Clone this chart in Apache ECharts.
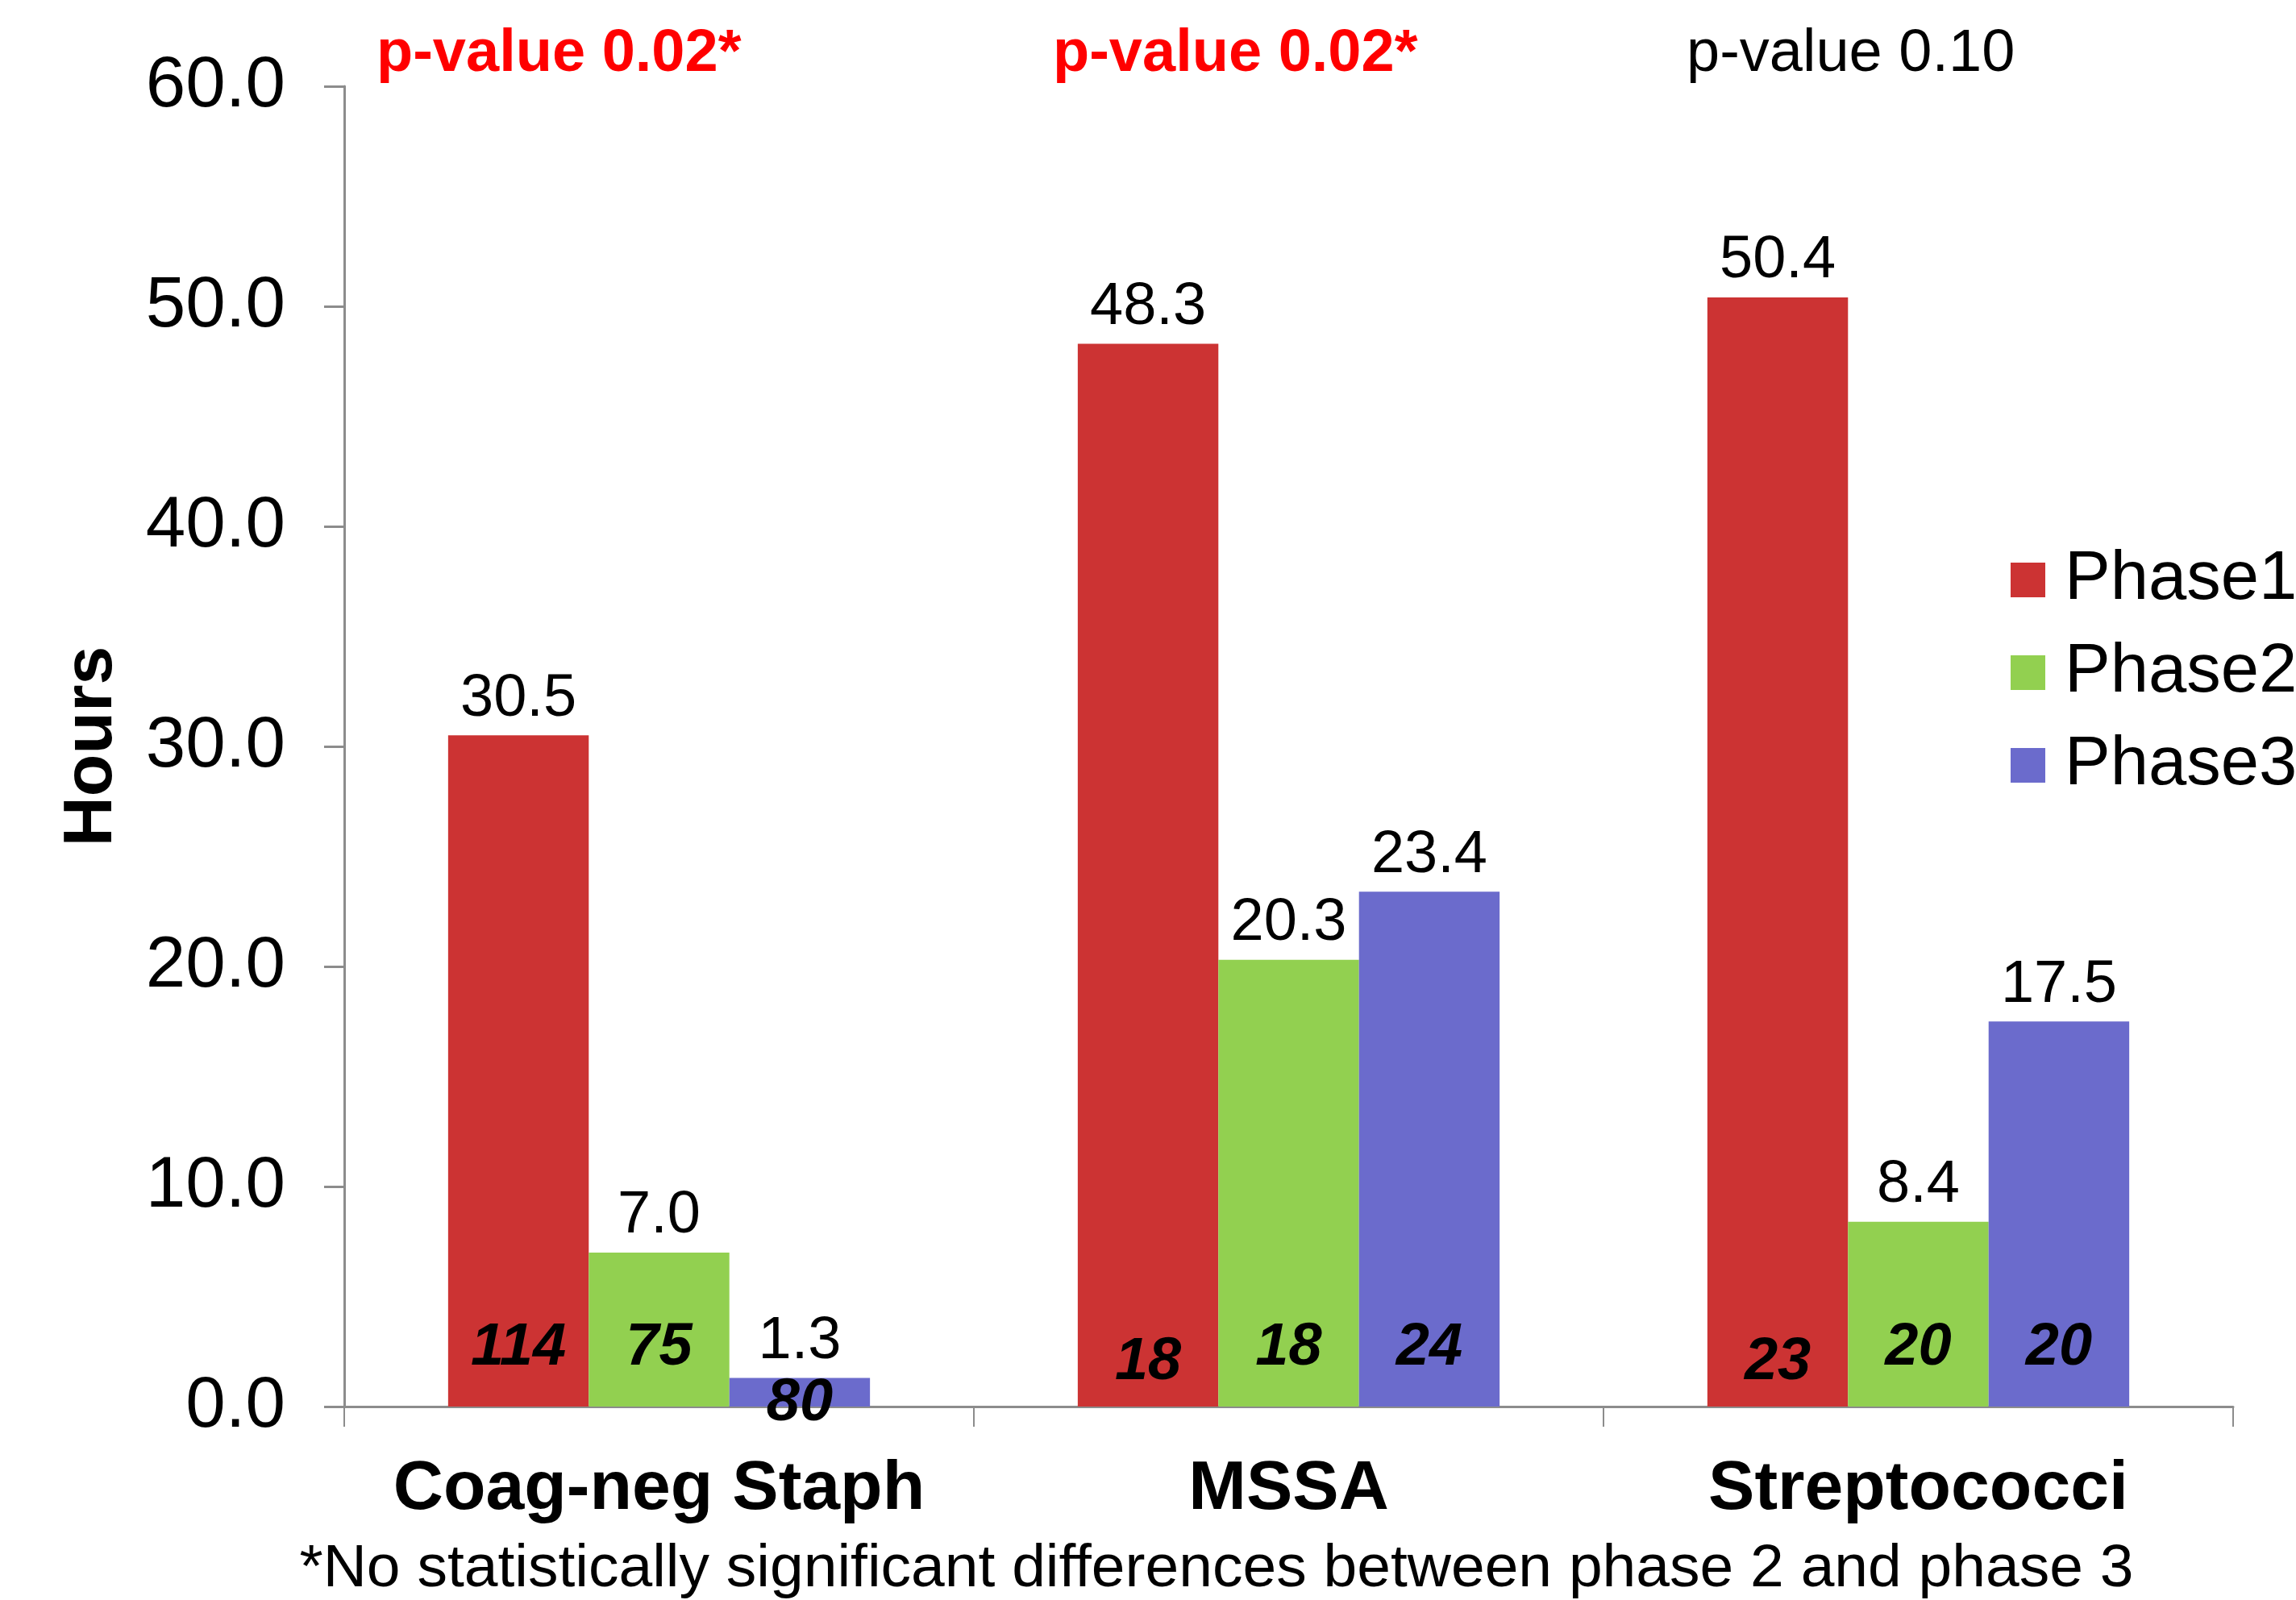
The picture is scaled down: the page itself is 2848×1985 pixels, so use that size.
<!DOCTYPE html>
<html>
<head>
<meta charset="utf-8">
<script src="https://cdn.jsdelivr.net/npm/echarts@6/dist/echarts.min.js"></script>
<style>
html,body{margin:0;padding:0;background:#fff;}
#chart{width:2848px;height:1985px;}
</style>
</head>
<body>
<div id="chart"></div>
<script>
// ---- data ----
const categories = ['Coag-neg Staph', 'MSSA', 'Streptococci'];
const seriesNames = ['Phase1', 'Phase2', 'Phase3'];
const phase1 = [30.5, 48.3, 50.4];
const phase2 = [7.0, 20.3, 8.4];
const phase3 = [1.3, 23.4, 17.5];
const counts1 = [114, 18, 23];
const counts2 = [75, 18, 20];
const counts3 = [80, 24, 20];
const pValues = ['p-value 0.02*', 'p-value 0.02*', 'p-value 0.10'];
const yTicks = [0, 10, 20, 30, 40, 50, 60];
const footnote = '*No statistically significant differences between phase 2 and phase 3';

// ---- styles / layout ----
const FONT = '"Liberation Sans", Arial, sans-serif';
const colors = ['#CC3333', '#92D050', '#6B6BCC'];
const CAT_GAP = 0.33;
// pixel lift of count labels above the axis, per phase then category (layout only)
const countLift = [[72, 54, 54], [72, 72, 72], [3, 72, 72]];

const chart = echarts.init(document.getElementById('chart'), null, {renderer: 'canvas'});

const values = [phase1, phase2, phase3];
const counts = [counts1, counts2, counts3];

const barSeries = values.map((vals, i) => ({
  name: seriesNames[i],
  type: 'bar',
  data: vals,
  barGap: '0%',
  barCategoryGap: (CAT_GAP * 100) + '%',
  itemStyle: {color: colors[i]},
  label: {
    show: true,
    position: 'top',
    distance: 8,
    formatter: p => p.value.toFixed(1),
    fontFamily: FONT,
    fontSize: 74,
    color: '#000'
  },
  z: 2
}));

const countData = [];
counts.forEach((arr, phase) => arr.forEach((c, cat) => countData.push([cat, phase, c])));

const countSeries = {
  type: 'custom',
  name: 'counts',
  data: countData,
  encode: {x: 0, y: 1},
  z: 5,
  silent: true,
  renderItem: function (params, api) {
    const cat = api.value(0);
    const phase = api.value(1);
    const base = api.coord([cat, 0]);
    const band = api.size([1, 0])[0];
    const barW = band * (1 - CAT_GAP) / 3;
    const x = base[0] + (phase - 1) * barW;
    const y = base[1] - countLift[phase][cat];
    return {
      type: 'text',
      style: {
        x: x, y: y,
        text: String(api.value(2)),
        fontFamily: FONT,
        fontSize: 74,
        fontWeight: 'bold',
        fontStyle: 'italic',
        fill: '#000',
        align: 'center',
        verticalAlign: 'middle'
      }
    };
  }
};

const pLeft = [467, 1306, 2092];
const titles = pValues.map((t, i) => ({
  text: t,
  left: pLeft[i],
  top: 31,
  padding: 0,
  textStyle: {
    fontFamily: FONT,
    fontSize: 74,
    fontWeight: i < 2 ? 'bold' : 'normal',
    color: i < 2 ? '#FF0000' : '#000'
  }
}));

const option = {
  backgroundColor: '#fff',
  animation: false,
  title: titles,
  legend: {
    data: seriesNames,
    orient: 'vertical',
    left: 2489,
    top: 672,
    itemWidth: 43,
    itemHeight: 43,
    itemGap: 30,
    icon: 'rect',
    textStyle: {
      fontFamily: FONT,
      fontSize: 85,
      color: '#000',
      lineHeight: 85,
      padding: [0, 0, 0, 19]
    }
  },
  grid: {left: 427, right: 78, top: 107, bottom: 240, containLabel: false},
  xAxis: {
    type: 'category',
    data: categories,
    axisLine: {show: true, lineStyle: {color: '#8c8c8c', width: 3}},
    axisTick: {show: true, length: 25, alignWithLabel: false, lineStyle: {color: '#8c8c8c', width: 2}},
    axisLabel: {
      fontFamily: FONT,
      fontSize: 86,
      fontWeight: 'bold',
      color: '#000',
      margin: 60,
      interval: 0
    },
    splitLine: {show: false}
  },
  yAxis: {
    type: 'value',
    min: yTicks[0],
    max: yTicks[yTicks.length - 1],
    interval: yTicks[1] - yTicks[0],
    name: 'Hours',
    nameLocation: 'middle',
    nameRotate: 90,
    nameGap: 270,
    nameTextStyle: {fontFamily: FONT, fontSize: 86, fontWeight: 'bold', color: '#000'},
    axisLine: {show: true, lineStyle: {color: '#8c8c8c', width: 3}},
    axisTick: {show: true, length: 25, lineStyle: {color: '#8c8c8c', width: 3}},
    axisLabel: {
      fontFamily: FONT,
      fontSize: 89,
      color: '#000',
      margin: 73,
      formatter: v => v.toFixed(1)
    },
    splitLine: {show: false}
  },
  graphic: [{
    type: 'text',
    x: 1509,
    y: 1947,
    style: {
      text: footnote,
      fontFamily: FONT,
      fontSize: 75,
      fill: '#000',
      align: 'center',
      verticalAlign: 'middle'
    }
  }],
  series: [...barSeries, countSeries]
};

chart.setOption(option);
</script>
</body>
</html>
